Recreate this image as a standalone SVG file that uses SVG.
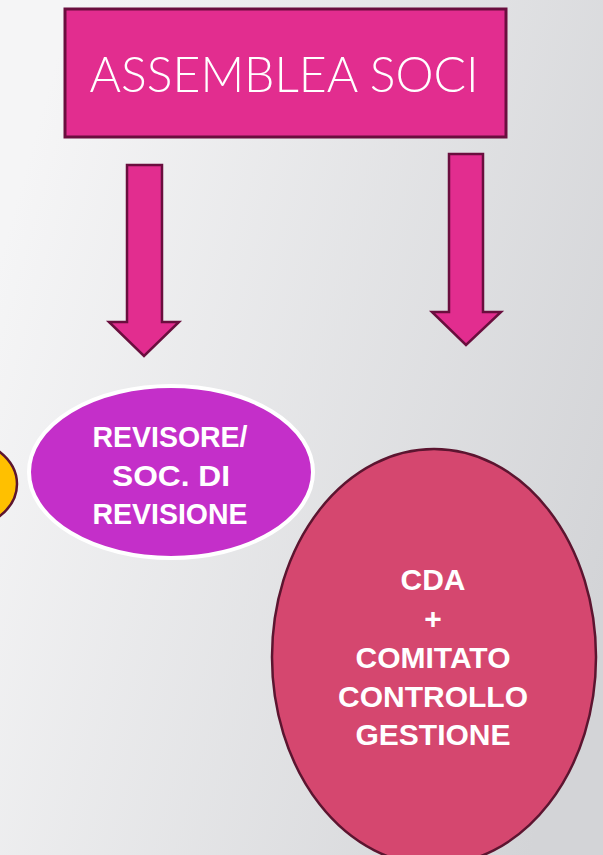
<svg xmlns="http://www.w3.org/2000/svg" width="603" height="855" viewBox="0 0 603 855">
  <defs>
    <linearGradient id="bg" x1="0" y1="0.3" x2="1" y2="0.7">
      <stop offset="0" stop-color="#f5f5f6"/>
      <stop offset="1" stop-color="#d3d4d7"/>
    </linearGradient>
    <style>
      .arrow { fill: #e22d8f; stroke: #6a0e3e; stroke-width: 2.5; stroke-linejoin: miter; }
      .bold { font-family: "Liberation Sans", Arial, sans-serif; font-weight: bold; font-size: 30px; fill: #ffffff; text-anchor: middle; }
    </style>
  </defs>
  <rect x="0" y="0" width="603" height="855" fill="url(#bg)"/>

  <g id="connectors">
    <path class="arrow" d="M127,165 L162,165 L162,322 L179,322 L144,356 L109,322 L127,322 Z"/>
    <path class="arrow" d="M449,154 L483,154 L483,312 L501,312 L466,345 L432,312 L449,312 Z"/>
  </g>

  <g id="assemblea">
    <rect x="65" y="9" width="441" height="128" fill="#e22d8f" stroke="#6a0e3e" stroke-width="3"/>
    <text x="284" y="92" font-family="Lato, 'Liberation Sans', sans-serif" font-weight="300" font-size="49" fill="#ffffff" text-anchor="middle" textLength="389" lengthAdjust="spacingAndGlyphs">ASSEMBLEA SOCI</text>
  </g>

  <g id="yellow">
    <ellipse cx="-50" cy="484" rx="67" ry="48" fill="#ffc000" stroke="#5c1530" stroke-width="2.5"/>
  </g>

  <g id="revisore">
    <ellipse cx="171" cy="472" rx="142" ry="86" fill="#c42fc9" stroke="#ffffff" stroke-width="4"/>
    <text class="bold" x="170" y="447" textLength="155" lengthAdjust="spacingAndGlyphs">REVISORE/</text>
    <text class="bold" x="171" y="486" textLength="118" lengthAdjust="spacingAndGlyphs">SOC. DI</text>
    <text class="bold" x="170" y="524" textLength="155" lengthAdjust="spacingAndGlyphs">REVISIONE</text>
  </g>

  <g id="cda">
    <ellipse cx="434" cy="657" rx="162" ry="208" fill="#d5476f" stroke="#5c1530" stroke-width="2.5"/>
    <text class="bold" x="433" y="590">CDA</text>
    <text class="bold" x="433" y="629">+</text>
    <text class="bold" x="433" y="668">COMITATO</text>
    <text class="bold" x="433" y="707">CONTROLLO</text>
    <text class="bold" x="433" y="745">GESTIONE</text>
  </g>
</svg>
